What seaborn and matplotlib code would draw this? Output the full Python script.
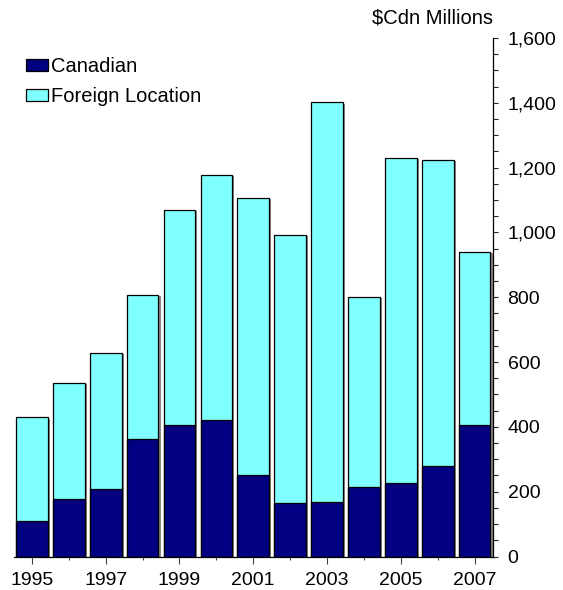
import matplotlib
matplotlib.use("Agg")
import matplotlib.pyplot as plt
import matplotlib.patheffects as pe
from matplotlib.ticker import MultipleLocator, FuncFormatter
import seaborn as sns
import pandas as pd
import numpy as np

years = [str(y) for y in range(1995, 2008)]
canadian = [110, 176, 207, 363, 406, 420, 252, 164, 169, 215, 226, 279, 407]
foreign = [319, 360, 422, 444, 663, 758, 854, 828, 1232, 585, 1005, 946, 534]
tick_labels = ["1995", "", "1997", "", "1999", "", "2001", "", "2003", "", "2005", "", "2007"]

df = pd.DataFrame({"year": years, "Canadian": canadian, "Foreign Location": foreign})
df["total"] = df["Canadian"] + df["Foreign Location"]

sns.set_style("white")
plt.rcParams["font.family"] = ["Liberation Sans", "DejaVu Sans"]
plt.rcParams["text.color"] = "black"
plt.rcParams["xtick.color"] = "black"
plt.rcParams["ytick.color"] = "black"

navy = "#000080"
cyan = "#80FFFF"

fig = plt.figure(figsize=(5.63, 5.90), dpi=100)
ax = fig.add_axes([13.5 / 563, (590 - 556.5) / 590, (493 - 13.5) / 563, (556.5 - 38) / 590])

shadow = [pe.SimplePatchShadow(offset=(1.5, -0.8), shadow_rgbFace="#888888", alpha=1.0), pe.Normal()]

sns.barplot(data=df, x="year", y="total", color=cyan, width=0.86, saturation=1,
            edgecolor="black", linewidth=0.9, ax=ax, label="Foreign Location")
sns.barplot(data=df, x="year", y="Canadian", color=navy, width=0.86, saturation=1,
            edgecolor="black", linewidth=0.9, ax=ax, label="Canadian")
for p in ax.patches:
    p.set_path_effects(shadow)

ax.set_xlim(-0.5, 12.5)
ax.set_ylim(0, 1600)
ax.set_xlabel("")
ax.set_ylabel("")

for s in ["left", "top"]:
    ax.spines[s].set_visible(False)
for s in ["right", "bottom"]:
    ax.spines[s].set_color("black")
    ax.spines[s].set_linewidth(0.9)

ax.yaxis.tick_right()
ax.yaxis.set_major_locator(MultipleLocator(200))
ax.yaxis.set_minor_locator(MultipleLocator(50))
ax.yaxis.set_major_formatter(FuncFormatter(lambda v, p: f"{int(v):,}"))
ax.tick_params(axis="y", which="both", direction="out", length=3.5, width=0.8,
               color="#222222", labelcolor="black", labelsize=14, pad=7, right=True, left=False)

ax.set_xticks(range(len(years)))
ax.set_xticklabels(tick_labels)
ax.tick_params(axis="x", direction="out", length=5, width=0.8, color="#444444",
               labelcolor="black", labelsize=14, pad=6.5, bottom=True)
for i, t in enumerate(ax.xaxis.get_major_ticks()):
    if i % 2 == 1:
        t.tick1line.set_markersize(2.5)

h, l = ax.get_legend_handles_labels()
order = [l.index("Canadian"), l.index("Foreign Location")]
leg = ax.legend([h[i] for i in order], [l[i] for i in order],
                loc="upper left", bbox_to_anchor=(0.0, 0.986), frameon=False,
                fontsize=14.5, handlelength=1.1, handleheight=0.55,
                handletextpad=0.15, labelspacing=0.55, borderaxespad=0.2)
for hp in leg.legend_handles:
    hp.set_path_effects([])
for t in leg.get_texts():
    t.set_color("black")

fig.text(493 / 563, (590 - 18) / 590, "$Cdn Millions", ha="right", va="center",
         fontsize=14.5, color="black")

fig.savefig("out.png", dpi=100)
